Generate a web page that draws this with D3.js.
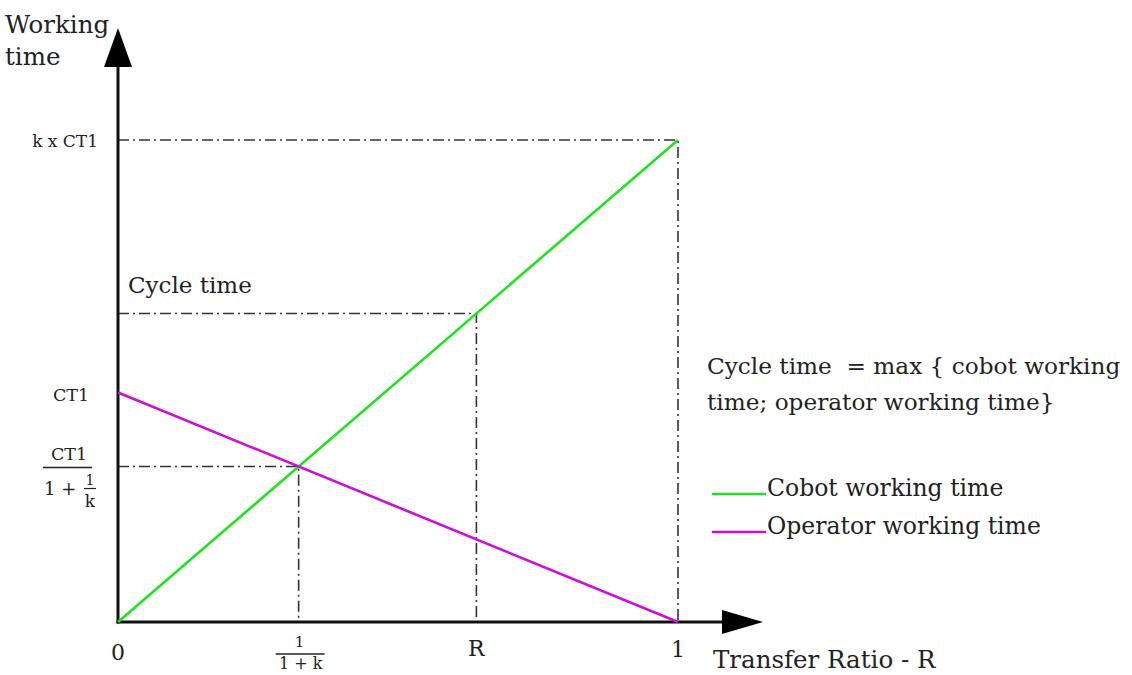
<!DOCTYPE html>
<html><head><meta charset="utf-8">
<script src="https://cdn.jsdelivr.net/npm/d3@7"></script>
<style>
html,body{margin:0;padding:0;background:#fff;}
text{font-family:"DejaVu Serif","Liberation Serif",serif;fill:#222;}
</style></head>
<body>
<svg id="c" width="1132" height="675"></svg>
<script>
// ---- data ----
const k = 2.1;            // cobot / operator time ratio
const CT1 = 1;            // operator cycle time (normalised)
const R = 0.64;           // transfer ratio marked on the axis
const xDomain = [0, 1];
const cobotSeries = [[0, 0], [1, k * CT1]];
const operatorSeries = [[0, CT1], [1, 0]];
const seriesNames = ["Cobot working time", "Operator working time"];
const seriesColors = ["#1ee31e", "#cc10d8"];
const yTickLabels = ["k x CT1", "CT1"];
const xTickLabels = ["0", "R", "1"];

// ---- drawing ----
const svg = d3.select("#c");
const x = d3.scaleLinear().domain(xDomain).range([118, 678]);
const y = d3.scaleLinear().domain([0, k * CT1]).range([622, 140]);
const cobot = r => k * CT1 * r;
const xi = 1 / (1 + k);          // intersection
const yi = cobot(xi);

// dash-dot guides
const guides = [
  [[0, k * CT1], [1, k * CT1], [1, 0]],
  [[0, cobot(R)], [R, cobot(R)], [R, 0]],
  [[0, yi], [xi, yi], [xi, 0]]
];
const gline = d3.line().x(d => x(d[0])).y(d => y(d[1]));
svg.append("g").selectAll("path").data(guides).join("path")
  .attr("d", gline).attr("fill", "none").attr("stroke", "#333")
  .attr("stroke-width", 1.6).attr("stroke-dasharray", "11,4,2,4");

// axes (domain lines only)
const xAxis = d3.axisBottom(x).ticks(0).tickSizeOuter(0);
const gx = svg.append("g").attr("transform", `translate(0,${y(0)})`).call(xAxis);
gx.select(".domain").attr("d", `M${x(0) - 1.5},0H725`).attr("stroke", "#111").attr("stroke-width", 3);
const yAxis = d3.axisLeft(y).ticks(0).tickSizeOuter(0);
const gy = svg.append("g").attr("transform", `translate(${x(0)},0)`).call(yAxis);
gy.select(".domain").attr("d", `M0,${y(0) + 1.5}V62`).attr("stroke", "#111").attr("stroke-width", 3);
// arrow heads
svg.append("path").attr("d", `M${x(0)},28L${x(0) + 14},67L${x(0) - 14},67Z`).attr("fill", "#000");
svg.append("path").attr("d", `M763,${y(0)}L722,${y(0) - 12}L722,${y(0) + 12}Z`).attr("fill", "#000");

// series lines
const sline = d3.line().x(d => x(d[0])).y(d => y(d[1]));
svg.append("g").selectAll("path").data([cobotSeries, operatorSeries]).join("path")
  .attr("d", sline).attr("fill", "none")
  .attr("stroke", (d, i) => seriesColors[i]).attr("stroke-width", 2.6);

// axis titles
svg.append("text").attr("x", 5).attr("y", 33).attr("font-size", 24.5).text("Working");
svg.append("text").attr("x", 5).attr("y", 65).attr("font-size", 24.5).text("time");
svg.append("text").attr("x", 713).attr("y", 668).attr("font-size", 24.5).text("Transfer Ratio - R");

// y tick labels
svg.append("text").attr("x", 98).attr("y", y(k * CT1) + 7).attr("text-anchor", "end")
  .attr("font-size", 17).text(yTickLabels[0]);
svg.append("text").attr("x", 71).attr("y", y(CT1) + 9).attr("text-anchor", "middle")
  .attr("font-size", 17.5).text(yTickLabels[1]);
// CT1 / (1 + 1/k)
const fy = y(yi);
svg.append("text").attr("x", 69).attr("y", fy - 7).attr("text-anchor", "middle").attr("font-size", 17.5).text("CT1");
svg.append("line").attr("x1", 43).attr("x2", 92).attr("y1", fy + 1).attr("y2", fy + 1).attr("stroke", "#222").attr("stroke-width", 1.4);
svg.append("text").attr("x", 44).attr("y", fy + 28).attr("font-size", 18).text("1 +");
svg.append("text").attr("x", 90).attr("y", fy + 18).attr("text-anchor", "middle").attr("font-size", 14).text("1");
svg.append("line").attr("x1", 84).attr("x2", 96).attr("y1", fy + 22).attr("y2", fy + 22).attr("stroke", "#222").attr("stroke-width", 1.2);
svg.append("text").attr("x", 90).attr("y", fy + 40).attr("text-anchor", "middle").attr("font-size", 17).text("k");

// x tick labels
[[0, xTickLabels[0], 660], [R, xTickLabels[1], 656], [1, xTickLabels[2], 657]].forEach(([v, t, by]) => {
  svg.append("text").attr("x", x(v)).attr("y", by).attr("text-anchor", "middle").attr("font-size", 22).text(t);
});
// 1/(1+k)
svg.append("text").attr("x", x(xi) + 1).attr("y", 647).attr("text-anchor", "middle").attr("font-size", 15).text("1");
svg.append("line").attr("x1", x(xi) - 23).attr("x2", x(xi) + 26).attr("y1", 654).attr("y2", 654).attr("stroke", "#222").attr("stroke-width", 1.3);
svg.append("text").attr("x", x(xi) + 2).attr("y", 669).attr("text-anchor", "middle").attr("font-size", 16).text("1 + k");

// annotations
svg.append("text").attr("x", 128).attr("y", 293).attr("font-size", 23).text("Cycle time");
svg.append("text").attr("x", 707).attr("y", 374).attr("font-size", 23.2).attr("xml:space", "preserve").text("Cycle time  = max { cobot working");
svg.append("text").attr("x", 707).attr("y", 410).attr("font-size", 23.2).text("time; operator working time}");

// legend
const lg = svg.append("g").selectAll("g").data(seriesNames).join("g")
  .attr("transform", (d, i) => `translate(712,${494 + i * 38})`);
lg.append("line").attr("x1", 0).attr("x2", 54).attr("y1", 0).attr("y2", 0)
  .attr("stroke", (d, i) => seriesColors[i]).attr("stroke-width", 2.6);
lg.append("text").attr("x", 55).attr("y", 2).attr("font-size", 23.5).text(d => d);
</script>
</body></html>
